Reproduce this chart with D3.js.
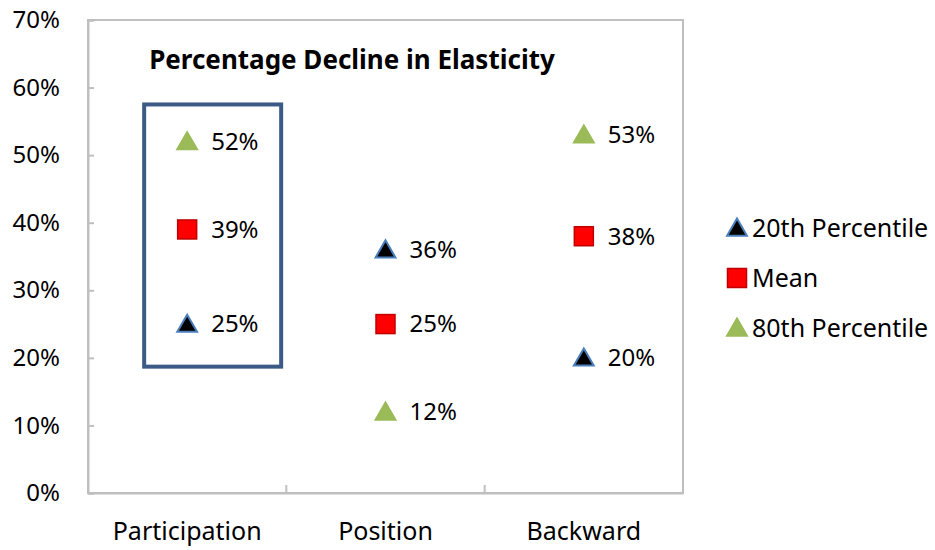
<!DOCTYPE html>
<html>
<head>
<meta charset="utf-8">
<script src="https://cdn.jsdelivr.net/npm/d3@7"></script>
<style>
  body { margin: 0; background: #fff; }
  text { font-family: "Noto Sans", sans-serif; fill: #000; }
</style>
</head>
<body>
<div class="chart_container"></div>
<script>
// data
var categories = ["Participation", "Position", "Backward"];
var p20 = [0.25, 0.36, 0.20];
var means = [0.39, 0.25, 0.38];
var p80 = [0.52, 0.12, 0.53];
var yTicks = [0, 0.1, 0.2, 0.3, 0.4, 0.5, 0.6, 0.7];
var seriesNames = ["20th Percentile", "Mean", "80th Percentile"];

var w = 935, h = 550;
var p_left = 88, p_right = 683, p_top = 20, p_bottom = 493;

var svg = d3.select('.chart_container')
    .append('svg')
    .attr('width', w)
    .attr('height', h);

var x_scale = d3.scaleBand()
    .domain(categories)
    .range([p_left, p_right]);
var y_scale = d3.scaleLinear()
    .domain([0, 0.7])
    .range([p_bottom, p_top]);

// plot frame
svg.append('rect')
    .attr('x', p_left).attr('y', p_top)
    .attr('width', p_right - p_left).attr('height', p_bottom - p_top)
    .attr('fill', 'none')
    .attr('stroke', '#bfbfbf')
    .attr('stroke-width', 2);

// y axis
var y_axis = d3.axisLeft(y_scale)
    .tickValues(yTicks)
    .tickFormat(d3.format('.0%'))
    .tickSize(-6)
    .tickPadding(28);
var yg = svg.append('g')
    .attr('transform', 'translate(' + p_left + ',0)')
    .call(y_axis);
yg.select('.domain').attr('stroke', '#bfbfbf').attr('stroke-width', 2);
yg.selectAll('.tick line').attr('stroke', '#bfbfbf').attr('stroke-width', 2);
yg.selectAll('.tick text').style('font-size', '24px').style('font-family', '"Noto Sans", sans-serif');

// x axis
var x_axis = d3.axisBottom(x_scale)
    .tickSize(0)
    .tickPadding(29);
var xg = svg.append('g')
    .attr('transform', 'translate(0,' + p_bottom + ')')
    .call(x_axis);
xg.select('.domain').attr('stroke', '#bfbfbf').attr('stroke-width', 2);
xg.selectAll('.tick text').style('font-size', '25px').style('font-family', '"Noto Sans", sans-serif');
// category dividers (ticks inside)
xg.selectAll('.divider')
    .data(categories.slice(1))
    .enter()
    .append('line')
    .attr('x1', d => x_scale(d)).attr('x2', d => x_scale(d))
    .attr('y1', 0).attr('y2', -8)
    .attr('stroke', '#bfbfbf')
    .attr('stroke-width', 2);

// title
svg.append('text')
    .attr('x', 352)
    .attr('y', 69)
    .attr('text-anchor', 'middle')
    .style('font-size', '26px')
    .style('font-weight', 'bold')
    .text('Percentage Decline in Elasticity');

// highlight box around Participation
var boxTop = 0.575, boxBottom = 0.187;
var cx0 = x_scale('Participation') + x_scale.bandwidth() / 2;
svg.append('rect')
    .attr('x', cx0 - 43)
    .attr('y', y_scale(boxTop))
    .attr('width', 137)
    .attr('height', y_scale(boxBottom) - y_scale(boxTop))
    .attr('fill', 'none')
    .attr('stroke', '#3B5A86')
    .attr('stroke-width', 4);

var tri = d3.symbol().type(d3.symbolTriangle).size(170);
var styles = [
    {fill: '#000000', stroke: '#4A7EBB', shape: 'tri'},
    {fill: '#FF0000', stroke: '#C00000', shape: 'sq'},
    {fill: '#9BBB59', stroke: '#9BBB59', shape: 'tri'}
];
var series = [p20, means, p80];

function drawMarker(g, st) {
    if (st.shape == 'tri') {
        g.append('path')
            .attr('d', tri)
            .attr('transform', 'translate(0,2)')
            .attr('fill', st.fill)
            .attr('stroke', st.stroke)
            .attr('stroke-width', 2);
    } else {
        g.append('rect')
            .attr('x', -9.5).attr('y', -9.5)
            .attr('width', 19).attr('height', 19)
            .attr('fill', st.fill)
            .attr('stroke', st.stroke)
            .attr('stroke-width', 1.5);
    }
}

series.forEach(function(vals, si) {
    categories.forEach(function(c, i) {
        var cx = x_scale(c) + x_scale.bandwidth() / 2;
        var cy = y_scale(vals[i]);
        var g = svg.append('g')
            .attr('transform', 'translate(' + cx + ',' + cy + ')');
        drawMarker(g, styles[si]);
        g.append('text')
            .attr('x', 24)
            .attr('dy', '0.35em')
            .style('font-size', '24px')
            .text(d3.format('.0%')(vals[i]));
    });
});

// legend
var legend = svg.selectAll('.legend_item')
    .data(seriesNames)
    .enter()
    .append('g')
    .attr('class', 'legend_item')
    .attr('transform', (d, i) => 'translate(737,' + (228 + i * 50) + ')');
legend.each(function(d, i) { drawMarker(d3.select(this), styles[i]); });
legend.append('text')
    .attr('x', 15)
    .attr('dy', '0.35em')
    .style('font-size', '25px')
    .text(d => d);
</script>
</body>
</html>
